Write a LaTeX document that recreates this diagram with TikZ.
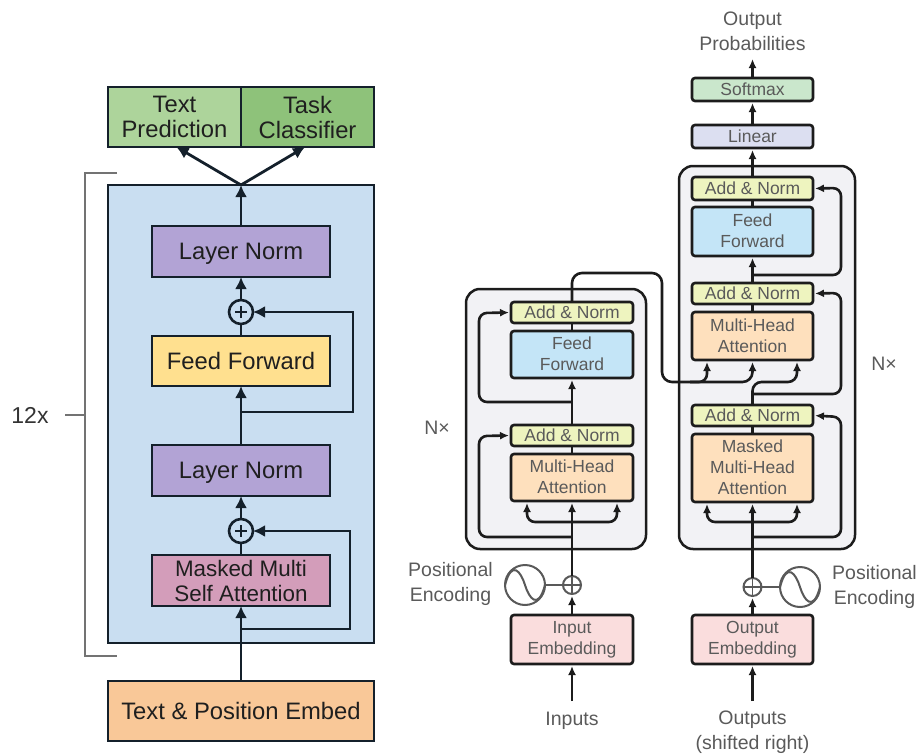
\documentclass[tikz,border=0pt]{standalone}
\usepackage{fontspec}
\setmainfont{Liberation Sans}
\usetikzlibrary{arrows.meta,calc}
\definecolor{lblue}{HTML}{C9DEF1}
\definecolor{lpurple}{HTML}{B2A3D5}
\definecolor{lyellow}{HTML}{FFE08F}
\definecolor{lmauve}{HTML}{D39DBA}
\definecolor{lorange}{HTML}{F9C898}
\definecolor{lgreenA}{HTML}{ADD49B}
\definecolor{lgreenB}{HTML}{8EC27A}
\definecolor{lborder}{HTML}{14202B}
\definecolor{tpanel}{HTML}{F2F2F5}
\definecolor{taddnorm}{HTML}{EEF4BF}
\definecolor{tff}{HTML}{C4E5F7}
\definecolor{tattn}{HTML}{FEE0BD}
\definecolor{tembed}{HTML}{FADDDD}
\definecolor{tsoft}{HTML}{CAE7CC}
\definecolor{tlinear}{HTML}{DCDFF1}
\definecolor{tline}{HTML}{1C1C1C}
\definecolor{ttext}{HTML}{5A5A5A}
\tikzset{
  x=1pt,y=-1pt,
  lbox/.style={draw=lborder,line width=2.3pt,outer sep=0pt,inner sep=0pt,align=center,text=black!88,
    text depth=0pt,font=\fontsize{23.8}{25}\selectfont},
  rbox/.style={draw=tline,line width=2.6pt,rounded corners=3pt,outer sep=0pt,inner sep=0pt,align=center,text=ttext,
    font=\fontsize{17.5}{21}\selectfont},
  rpanel/.style={draw=tline,line width=2.5pt,fill=tpanel,rounded corners=14pt,outer sep=0pt},
  llabel/.style={text=black!80,align=center,inner sep=0pt,font=\fontsize{19.5}{25}\selectfont},
  rlabel/.style={text=ttext,align=center,inner sep=0pt,font=\fontsize{19.5}{25}\selectfont},
  larrow/.style={draw=lborder,line width=2.8pt,-{Latex[length=12pt,width=12pt]}},
  lline/.style={draw=lborder,line width=2.8pt},
  rarrow/.style={draw=tline,line width=2.6pt,-{Latex[length=9pt,width=8pt]},shorten >=2pt},
  rline/.style={draw=tline,line width=2.6pt},
  lsum/.style={circle,draw=lborder,line width=2.6pt,fill=lblue,minimum size=24pt,inner sep=0pt,outer sep=0pt,
    path picture={\draw[line width=2.4pt] ($(path picture bounding box.center)+(-6,0)$)--($(path picture bounding box.center)+(6,0)$);
                  \draw[line width=2.4pt] ($(path picture bounding box.center)+(0,-6)$)--($(path picture bounding box.center)+(0,6)$);}},
  rsum/.style={circle,draw=black!65,line width=2pt,minimum size=18pt,inner sep=0pt,outer sep=0pt,
    path picture={\draw[line width=1.4pt,black!65] (path picture bounding box.west)--(path picture bounding box.east);
                  \draw[line width=1.4pt,black!65] (path picture bounding box.north)--(path picture bounding box.south);}},
  rsine/.style={circle,draw=black!65,line width=2pt,minimum size=40pt,inner sep=0pt,outer sep=0pt},
  sinewave/.style={draw=black!65,line width=2pt},
  bracketline/.style={draw=black!55,line width=1.3pt},
}
% \bx{name}{style}{x1}{y1}{x2}{y2}{text}
\newcommand{\bx}[7]{%
  \pgfmathsetmacro{\bxw}{#5-#3}\pgfmathsetmacro{\bxh}{#6-#4}%
  \pgfmathsetmacro{\bxx}{(#5+#3)/2}\pgfmathsetmacro{\bxy}{(#6+#4)/2}%
  \node[#2,minimum width=\bxw pt,minimum height=\bxh pt] (#1) at (\bxx,\bxy) {#7};}
\newcommand{\sinewv}[1]{%
  \draw[sinewave] (#1.west) .. controls ($(#1)+(-13,-26)$) and ($(#1)+(-4,-13)$) .. (#1.center)
     .. controls ($(#1)+(4,13)$) and ($(#1)+(13,26)$) .. (#1.east);}
\begin{document}
\begin{tikzpicture}
\useasboundingbox (0,0) rectangle (919,755);
% ---------- left diagram ----------
\bx{lpanel}{lbox,fill=lblue}{108}{185}{374}{643}{}
\bx{tpred}{lbox,fill=lgreenA}{108}{87}{241}{147}{Text\\Prediction}
\bx{tcls}{lbox,fill=lgreenB}{241}{87}{374}{147}{Task\\Classifier}
\bx{ln1}{lbox,fill=lpurple}{152}{226}{330}{277}{Layer Norm}
\bx{ffw}{lbox,fill=lyellow}{152}{336}{330}{386}{Feed Forward}
\bx{ln2}{lbox,fill=lpurple}{152}{445}{330}{496}{Layer Norm}
\bx{msa}{lbox,fill=lmauve,font=\fontsize{22.4}{25}\selectfont}{152}{555}{330}{606}{Masked Multi\\Self Attention}
\bx{emb}{lbox,fill=lorange}{108}{681}{374}{741}{Text \& Position Embed}
\node[lsum] (s1) at (241,312) {};
\node[lsum] (s2) at (241,531) {};
\coordinate (top) at (241,185);
\coordinate (l1) at (241,412);
\coordinate (l1r) at (353,412);
\coordinate (l2) at (241,629);
\coordinate (l2r) at (350,629);
\draw[larrow] (ln1.north) -- (top);
\draw[larrow] (top) -- ($(tpred.south)+(2,0)$);
\draw[larrow] (top) -- ($(tcls.south)+(-2.5,0)$);
\draw[larrow] (s1.north) -- (ln1.south);
\draw[lline] (ffw.north) -- (s1.south);
\draw[larrow] (ln2.north) -- (ffw.south);
\draw[larrow] (l1) -- (l1r) |- (s1.east);
\draw[larrow] (s2.north) -- (ln2.south);
\draw[lline] (msa.north) -- (s2.south);
\draw[larrow] (emb.north) -- (msa.south);
\draw[larrow] (l2) -- (l2r) |- (s2.east);
% bracket
\coordinate (bt) at (117,173);
\coordinate (bb) at (117,656);
\coordinate (bm) at (85,415);
\coordinate (bd) at (65,415);
\draw[bracketline] (bt) -- (85,173) -- (85,656) -- (bb);
\draw[bracketline] (bm) -- (bd);
\node[llabel,font=\fontsize{23}{25}\selectfont] (n12) at (30,415) {12x};
% ---------- right diagram panels ----------
\bx{encp}{rpanel}{466}{289}{646}{549}{}
\bx{decp}{rpanel}{679}{166}{855}{549}{}
\coordinate (exi) at (572,701);
\coordinate (dxi) at (752.5,701);
\bx{ean2}{rbox,fill=taddnorm}{511}{302}{633}{323}{Add \& Norm}
\bx{eff}{rbox,fill=tff}{511}{331}{633}{378}{\raisebox{1pt}{Feed}\\\raisebox{1pt}{Forward}}
\bx{ean1}{rbox,fill=taddnorm}{511}{425}{633}{446}{Add \& Norm}
\bx{emha}{rbox,fill=tattn}{511}{454}{633}{501}{\raisebox{1pt}{Multi-Head}\\\raisebox{1pt}{Attention}}
\bx{eemb}{rbox,fill=tembed}{511}{615}{633}{664}{Input\\Embedding}
\bx{dan3}{rbox,fill=taddnorm}{692}{177}{813}{200}{Add \& Norm}
\bx{dff}{rbox,fill=tff}{692}{207}{813}{256}{\raisebox{1pt}{Feed}\\\raisebox{1pt}{Forward}}
\bx{dan2}{rbox,fill=taddnorm}{692}{283}{813}{304}{Add \& Norm}
\bx{dmha}{rbox,fill=tattn}{692}{312}{813}{360}{\raisebox{1pt}{Multi-Head}\\\raisebox{1pt}{Attention}}
\bx{dan1}{rbox,fill=taddnorm}{692}{405}{813}{426}{Add \& Norm}
\bx{dmm}{rbox,fill=tattn}{692}{434}{813}{502}{\raisebox{1pt}{Masked}\\\raisebox{1pt}{Multi-Head}\\\raisebox{1pt}{Attention}}
\bx{demb}{rbox,fill=tembed}{692}{615}{813}{664}{Output\\Embedding}
\bx{soft}{rbox,fill=tsoft}{692}{78}{813}{101}{Softmax}
\bx{lin}{rbox,fill=tlinear}{692}{125}{813}{148}{Linear}
\node[rsum] (es) at (572,585) {};
\node[rsine] (esin) at (525,585) {};
\node[rsum] (ds) at (752.5,587) {};
\node[rsine] (dsin) at (800,587) {};
\sinewv{esin}
\sinewv{dsin}
\draw[sinewave] (esin.east) -- (es.west);
\draw[sinewave] (dsin.west) -- (ds.east);
% ---------- connector coordinates ----------
\coordinate (oprob) at (752.5,57);
\coordinate (etap) at (572,402);
\coordinate (ebot) at (572,537);
\coordinate (efork) at (572,522);
\coordinate (ma) at (527,501);
\coordinate (mb) at (617,501);
\coordinate (da) at (707,360);
\coordinate (db) at (797,360);
\coordinate (dc) at (707,502);
\coordinate (dd) at (797,502);
\coordinate (dfork) at (752.5,522);
\coordinate (dbot) at (752.5,537);
\coordinate (dmid) at (752.5,394);
\coordinate (dtop) at (752.5,275);
% encoder connectors
\draw[rarrow] (exi) -- (eemb.south);
\draw[rarrow] (eemb.north) -- (es.south);
\draw[rarrow] (es.north) -- (emha.south);
\draw[rline] (emha.north) -- (ean1.south);
\draw[rarrow] (ean1.north) -- (eff.south);
\draw[rline] (eff.north) -- (ean2.south);
\draw[rarrow,rounded corners=8pt] (ebot) -| (479,436) -- (ean1.west);
\draw[rarrow,rounded corners=8pt] (etap) -| (479,313) -- (ean2.west);
\draw[rarrow,rounded corners=8pt] (efork) -| (ma);
\draw[rarrow,rounded corners=8pt] (efork) -| (mb);
% cross connection
\draw[rarrow,rounded corners=10pt] (ean2.north) |- (662,273) |- (752.5,382) -- (dmha.south);
\draw[rarrow,rounded corners=8pt] (690,382) -| (da);
\draw[rarrow,rounded corners=9pt] (dan1.north) |- (797,382) -- (db);
% decoder connectors
\draw[rarrow] (dxi) -- (demb.south);
\draw[rarrow] (demb.north) -- (ds.south);
\draw[rarrow] (ds.north) -- (dmm.south);
\draw[rline] (dmm.north) -- (dan1.south);
\draw[rline] (dmha.north) -- (dan2.south);
\draw[rarrow] (dan2.north) -- (dff.south);
\draw[rline] (dff.north) -- (dan3.south);
\draw[rarrow] (dan3.north) -- (lin.south);
\draw[rarrow] (lin.north) -- (soft.south);
\draw[rarrow] (soft.north) -- (oprob);
\draw[rarrow,rounded corners=8pt] (dbot) -| (841,417) -- (dan1.east);
\draw[rarrow,rounded corners=8pt] (dmid) -| (841,293) -- (dan2.east);
\draw[rarrow,rounded corners=8pt] (dtop) -| (841,188) -- (dan3.east);
\draw[rarrow,rounded corners=8pt] (dfork) -| (dc);
\draw[rarrow,rounded corners=8pt] (dfork) -| (dd);
% labels
\node[rlabel] (t1) at (752.5,31) {Output\\Probabilities};
\node[rlabel] (t2) at (572,720.5) {Inputs};
\node[rlabel] (t3) at (752.5,732.5) {Outputs\\(shifted right)};
\node[rlabel] (t4) at (450.5,584) {Positional\\Encoding};
\node[rlabel] (t5) at (874.5,587) {Positional\\Encoding};
\node[rlabel] (t6) at (437,428) {N×};
\node[rlabel] (t7) at (884,364) {N×};
\end{tikzpicture}
\end{document}
